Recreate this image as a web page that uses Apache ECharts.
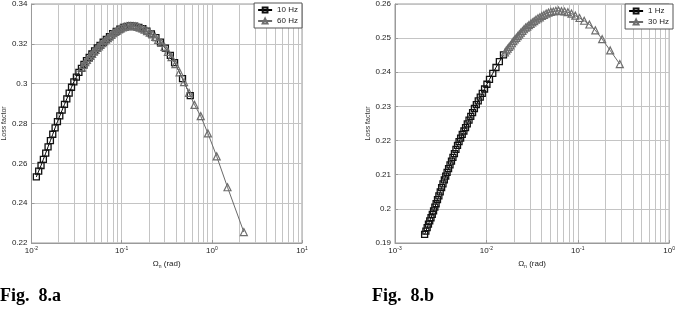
<!DOCTYPE html>
<html><head><meta charset="utf-8">
<script src="https://cdn.jsdelivr.net/npm/echarts@6/dist/echarts.min.js"></script>
<style>html,body{margin:0;padding:0;background:#fff}#c{width:678px;height:314px}</style>
</head><body><div id="c"></div>
<script>
// ---------- Fig. 8.a ----------
const a10HzX = [0.011324,0.012023,0.012764,0.013552,0.014388,0.015276,0.016218,0.017219,0.018281,0.019409,0.020606,0.021878,0.023227,0.024660,0.026182,0.027797,0.029512,0.031477,0.033574,0.035810,0.038194,0.040738,0.043652,0.046774,0.050119,0.053703,0.057544,0.062373,0.067608,0.073282,0.079433,0.087096,0.095499,0.10471,0.11482,0.12589,0.13964,0.15488,0.17179,0.19055,0.21380,0.23988,0.26915,0.30549,0.34674,0.38637,0.47315,0.57677];
const a10HzY = [0.2532,0.2561,0.2589,0.2620,0.2651,0.2683,0.2714,0.2746,0.2778,0.2809,0.2838,0.2867,0.2896,0.2924,0.2953,0.2982,0.3009,0.3033,0.3057,0.3077,0.3097,0.3116,0.3132,0.3149,0.3165,0.3179,0.3192,0.3208,0.3222,0.3236,0.3251,0.3263,0.3274,0.3283,0.3288,0.3290,0.3289,0.3283,0.3276,0.3264,0.3250,0.3231,0.3209,0.3178,0.3142,0.3106,0.3025,0.2940];
const a60HzX = [0.036224,0.037844,0.039537,0.041305,0.043152,0.045082,0.047098,0.049204,0.051404,0.053703,0.056105,0.058614,0.061235,0.064121,0.067143,0.070307,0.073621,0.077090,0.080724,0.084723,0.088920,0.093325,0.097949,0.10304,0.10839,0.11402,0.12023,0.12677,0.13397,0.14158,0.14997,0.15885,0.16866,0.17947,0.19143,0.20464,0.21928,0.23550,0.25410,0.27479,0.29854,0.32584,0.35727,0.39446,0.43853,0.49204,0.55847,0.64269,0.75336,0.90573,1.1324,1.4928,2.2646];
const a60HzY = [0.3081,0.3094,0.3108,0.3119,0.3129,0.3140,0.3150,0.3161,0.3170,0.3179,0.3187,0.3196,0.3204,0.3213,0.3221,0.3229,0.3237,0.3245,0.3254,0.3260,0.3266,0.3272,0.3278,0.3282,0.3285,0.3288,0.3290,0.3290,0.3289,0.3288,0.3285,0.3281,0.3277,0.3271,0.3264,0.3256,0.3247,0.3235,0.3220,0.3205,0.3185,0.3160,0.3133,0.3098,0.3057,0.3008,0.2954,0.2894,0.2837,0.2750,0.2635,0.2480,0.2255];
const aYTicks = [0.22,0.24,0.26,0.28,0.30,0.32,0.34];
const aXRange = [0.01, 10];
const aMinorX = [0.02,0.03,0.04,0.05,0.06,0.07,0.08,0.09,0.2,0.3,0.4,0.5,0.6,0.7,0.8,0.9,2,3,4,5,6,7,8,9];

// ---------- Fig. 8.b ----------
const b1HzX = [0.002109,0.002178,0.002249,0.002323,0.002399,0.002477,0.002559,0.002642,0.002729,0.002818,0.002917,0.003020,0.003126,0.003236,0.003350,0.003467,0.003589,0.003715,0.003855,0.003999,0.004150,0.004305,0.004467,0.004645,0.004831,0.005023,0.005224,0.005445,0.005675,0.005916,0.006180,0.006457,0.006745,0.007063,0.007396,0.007762,0.008147,0.008570,0.009016,0.009550,0.010139,0.010814,0.011749,0.012735,0.013868,0.015382];
const b1HzY = [0.1925,0.1935,0.1945,0.1955,0.1965,0.1974,0.1984,0.1994,0.2005,0.2015,0.2027,0.2038,0.2050,0.2062,0.2073,0.2085,0.2096,0.2107,0.2118,0.2129,0.2140,0.2151,0.2162,0.2174,0.2186,0.2197,0.2207,0.2218,0.2228,0.2238,0.2249,0.2260,0.2271,0.2282,0.2294,0.2305,0.2316,0.2327,0.2338,0.2351,0.2365,0.2379,0.2397,0.2414,0.2431,0.2451];
const b30HzX = [0.015959,0.016520,0.017100,0.017701,0.018323,0.019011,0.019724,0.020464,0.021232,0.022029,0.022909,0.023823,0.024774,0.025763,0.026853,0.027990,0.029174,0.030479,0.031842,0.033343,0.034914,0.036644,0.038459,0.040458,0.042658,0.045082,0.047753,0.050699,0.053951,0.057544,0.061660,0.066374,0.071779,0.077983,0.085310,0.093972,0.10447,0.11749,0.13397,0.15560,0.18493,0.22646,0.28840];
const b30HzY = [0.2458,0.2464,0.2469,0.2474,0.2479,0.2485,0.2491,0.2496,0.2501,0.2506,0.2511,0.2516,0.2521,0.2526,0.2531,0.2534,0.2538,0.2542,0.2546,0.2550,0.2554,0.2558,0.2561,0.2565,0.2568,0.2572,0.2575,0.2577,0.2578,0.2580,0.2581,0.2579,0.2578,0.2576,0.2572,0.2566,0.2559,0.2551,0.2540,0.2523,0.2497,0.2464,0.2424];
const bYTicks = [0.19,0.20,0.21,0.22,0.23,0.24,0.25,0.26];
const bXRange = [0.001, 1];
const bMinorX = [0.002,0.003,0.004,0.005,0.006,0.007,0.008,0.009,0.02,0.03,0.04,0.05,0.06,0.07,0.08,0.09,0.2,0.3,0.4,0.5,0.6,0.7,0.8,0.9];

const captions = ['Fig.  8.a', 'Fig.  8.b'];
const xName = '{a|\u03A9}{n|n}{a| (rad)}';
const yName = 'Loss factor';

const FONT = '"Liberation Sans", Arial, sans-serif';
const GRIDC = '#c4c4c4';
const AXC = '#9a9a9a';
const zip = (xs, ys) => xs.map((x, i) => [x, ys[i]]);

function xAxisFor(gi, range) {
  return {
    type: 'log', logBase: 10, gridIndex: gi, min: range[0], max: range[1],
    name: xName, nameLocation: 'middle', nameGap: 14,
    nameTextStyle: { rich: {
      a: { fontSize: 8, color: '#222', fontFamily: FONT },
      n: { fontSize: 5, color: '#222', fontFamily: FONT, padding: [5, 0, 0, 0] }
    } },
    axisLine: { show: true, lineStyle: { color: AXC } },
    axisTick: { show: true, inside: true, length: 3, lineStyle: { color: AXC } },
    splitLine: { show: true, lineStyle: { color: GRIDC, width: 1 } },
    axisLabel: {
      margin: 3,
      formatter: v => '{b|10}{s|' + Math.round(Math.log10(v)) + '}',
      rich: {
        b: { fontSize: 8, color: '#222', fontFamily: FONT },
        s: { fontSize: 5, color: '#222', fontFamily: FONT, padding: [0, 0, 5, 0] }
      }
    }
  };
}
function yAxisFor(gi, ticks) {
  return {
    type: 'value', gridIndex: gi, min: ticks[0], max: ticks[ticks.length - 1],
    interval: +(ticks[1] - ticks[0]).toFixed(4),
    name: yName, nameLocation: 'middle', nameGap: 18,
    nameTextStyle: { fontSize: 7, color: '#333', fontFamily: FONT },
    axisLine: { show: true, lineStyle: { color: AXC } },
    axisTick: { show: true, inside: true, length: 3, lineStyle: { color: AXC } },
    splitLine: { show: true, lineStyle: { color: GRIDC, width: 1 } },
    axisLabel: { fontSize: 8, color: '#222', fontFamily: FONT, margin: 4,
      formatter: v => String(+v.toFixed(4)) }
  };
}
function gridLines(gi, minor) {
  return {
    type: 'line', name: '_grid' + gi, xAxisIndex: gi, yAxisIndex: gi, data: [], z: 0,
    silent: true,
    markLine: {
      silent: true, symbol: 'none', z: 0, animation: false,
      label: { show: false },
      lineStyle: { color: GRIDC, width: 1, type: 'solid' },
      data: minor.map(v => ({ xAxis: v }))
    }
  };
}
function sqSeries(name, gi, data) {
  return {
    type: 'line', name, xAxisIndex: gi, yAxisIndex: gi, data, z: 3,
    symbol: 'rect', symbolSize: 6, showAllSymbol: true,
    lineStyle: { color: '#000', width: 1 },
    itemStyle: { color: 'rgba(255,255,255,0)', borderColor: '#111', borderWidth: 1.3 }
  };
}
function triSeries(name, gi, data) {
  return {
    type: 'line', name, xAxisIndex: gi, yAxisIndex: gi, data, z: 4,
    symbol: 'triangle', symbolSize: 7, showAllSymbol: true,
    lineStyle: { color: '#6a6a6a', width: 1 },
    itemStyle: { color: 'rgba(255,255,255,0)', borderColor: '#6e6e6e', borderWidth: 1.2 }
  };
}
function legendFor(names, right, top) {
  return {
    data: names, orient: 'vertical', right, top,
    itemWidth: 14, itemHeight: 6, itemGap: 3,
    padding: [3, 4, 3, 3],
    borderColor: '#555', borderWidth: 1, backgroundColor: '#fff',
    textStyle: { fontSize: 8, color: '#222', fontFamily: FONT }
  };
}

const chart = echarts.init(document.getElementById('c'), null, { renderer: 'canvas' });
chart.setOption({
  animation: false,
  backgroundColor: '#fff',
  grid: [
    { left: 26, top: 3, width: 276, height: 240, show: true, borderColor: AXC, borderWidth: 1 },
    { left: 395, top: 4, width: 278, height: 239, show: true, borderColor: AXC, borderWidth: 1 }
  ],
  xAxis: [xAxisFor(0, aXRange), xAxisFor(1, bXRange)],
  yAxis: [yAxisFor(0, aYTicks), yAxisFor(1, bYTicks)],
  legend: [legendFor(['10 Hz', '60 Hz'], 376, 3), legendFor(['1 Hz', '30 Hz'], 5, 4)],
  series: [
    gridLines(0, aMinorX),
    gridLines(1, bMinorX),
    sqSeries('10 Hz', 0, zip(a10HzX, a10HzY)),
    triSeries('60 Hz', 0, zip(a60HzX, a60HzY)),
    sqSeries('1 Hz', 1, zip(b1HzX, b1HzY)),
    triSeries('30 Hz', 1, zip(b30HzX, b30HzY))
  ],
  graphic: [
    { type: 'text', left: 0, top: 287, style: { text: captions[0], font: 'bold 18px "Liberation Serif", "Times New Roman", serif', fill: '#000' } },
    { type: 'text', left: 372, top: 287, style: { text: captions[1], font: 'bold 18px "Liberation Serif", "Times New Roman", serif', fill: '#000' } }
  ]
});
</script>
</body></html>
